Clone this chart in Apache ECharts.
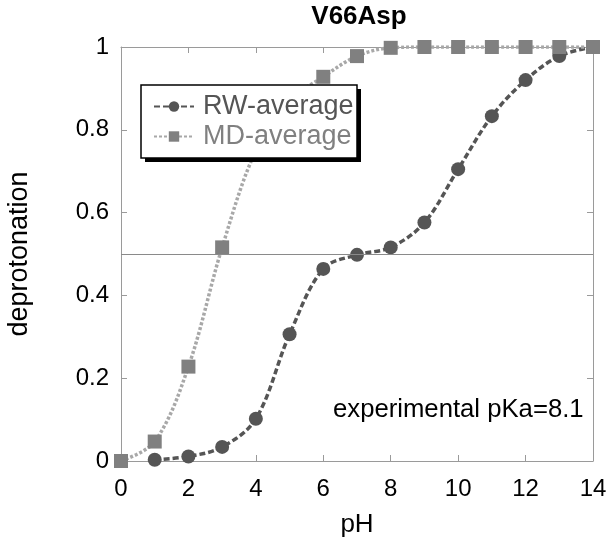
<!DOCTYPE html>
<html>
<head>
<meta charset="utf-8">
<script src="https://cdn.jsdelivr.net/npm/echarts@6/dist/echarts.min.js"></script>
<style>html,body{margin:0;padding:0;background:#fff}#c{width:615px;height:541px}</style>
</head>
<body>
<div id="c"></div>
<script>
const pH = [0,1,2,3,4,5,6,7,8,9,10,11,12,13,14];
const rwAverage = [null,0.003,0.011,0.034,0.102,0.306,0.464,0.498,0.516,0.576,0.705,0.833,0.920,0.978,1.0];
const mdAverage = [0,0.047,0.228,0.516,0.75,0.87,0.928,0.978,0.998,1,1,1,1,1,1];
const xTicks = [0,2,4,6,8,10,12,14];
const yTicks = [0,0.2,0.4,0.6,0.8,1];
const titleText = 'V66Asp';
const noteText = 'experimental pKa=8.1';
const refLine = 0.5;

const FONT = '"Liberation Sans", Arial, sans-serif';
const chart = echarts.init(document.getElementById('c'));
const pairs = (ys) => pH.map((x,i) => [x, ys[i]]).filter(p => p[1] !== null);

const axisCommon = {
  axisLine: {show: true, onZero: false, lineStyle: {color: '#9a9a9a', width: 1}},
  axisTick: {show: true, inside: true, length: 6, lineStyle: {color: '#9a9a9a'}},
  splitLine: {show: false}
};

chart.setOption({
  animation: false,
  backgroundColor: '#fff',
  textStyle: {fontFamily: FONT},
  grid: {left: 121, right: 22, top: 47, bottom: 80, containLabel: false, outerBoundsMode: 'none'},
  legend: {
    left: 153, top: 93, orient: 'vertical', z: 20,
    padding: 0, itemGap: 3, itemWidth: 40, itemHeight: 13,
    textStyle: {fontFamily: FONT, fontSize: 27, lineHeight: 27, color: 'inherit', padding: [0, 0, 0, 4]},
    data: ['RW-average', 'MD-average']
  },
  xAxis: [
    Object.assign({}, axisCommon, {
      type: 'value', min: 0, max: 14, interval: 2, position: 'bottom',
      name: 'pH', nameLocation: 'middle', nameGap: 51,
      nameTextStyle: {fontFamily: FONT, fontSize: 26, color: '#000'},
      axisLabel: {fontFamily: FONT, fontSize: 24, color: '#000', margin: 16,
        formatter: v => String(v)}
    }),
    Object.assign({}, axisCommon, {
      type: 'value', min: 0, max: 14, interval: 2, position: 'top',
      axisLabel: {show: false}
    })
  ],
  yAxis: [
    Object.assign({}, axisCommon, {
      type: 'value', min: 0, max: 1, interval: 0.2, position: 'left',
      name: 'deprotonation', nameLocation: 'middle', nameGap: 88, nameRotate: 90,
      nameTextStyle: {fontFamily: FONT, fontSize: 27, color: '#000'},
      axisLabel: {fontFamily: FONT, fontSize: 24, color: '#000', margin: 12,
        formatter: v => (v === 0 || v === 1) ? String(v) : String(+v.toFixed(1))}
    }),
    Object.assign({}, axisCommon, {
      type: 'value', min: 0, max: 1, interval: 0.2, position: 'right',
      axisLabel: {show: false}
    })
  ],
  series: [
    {
      name: 'RW-average', type: 'line', data: pairs(rwAverage), smooth: 0.35,
      symbol: 'circle', symbolSize: 14,
      itemStyle: {color: '#555555'},
      lineStyle: {color: '#555555', width: 3.5, type: [6, 3]},
      markLine: {
        silent: true, symbol: 'none', label: {show: false},
        lineStyle: {color: '#8a8a8a', width: 1, type: 'solid'},
        data: [{yAxis: refLine}]
      },
      z: 3
    },
    {
      name: 'MD-average', type: 'line', data: pairs(mdAverage), smooth: 0.35,
      symbol: 'rect', symbolSize: 14,
      itemStyle: {color: '#808080'},
      lineStyle: {color: '#a8a8a8', width: 3.5, type: [3, 2]},
      z: 4
    }
  ],
  graphic: [
    {type: 'rect', z: 10, shape: {x: 145, y: 89, width: 216, height: 73}, style: {fill: '#000'}},
    {type: 'rect', z: 11, shape: {x: 141, y: 85, width: 216, height: 73}, style: {fill: '#fff', stroke: '#000', lineWidth: 1.5}},
    {type: 'text', z: 5, x: 359, y: 17,
      style: {text: titleText, fontFamily: FONT, fontSize: 26, fontWeight: 'bold', fill: '#000', align: 'center', verticalAlign: 'middle'}},
    {type: 'text', z: 5, x: 333, y: 410,
      style: {text: noteText, fontFamily: FONT, fontSize: 25.7, fill: '#000', verticalAlign: 'middle'}}
  ]
});
</script>
</body>
</html>
